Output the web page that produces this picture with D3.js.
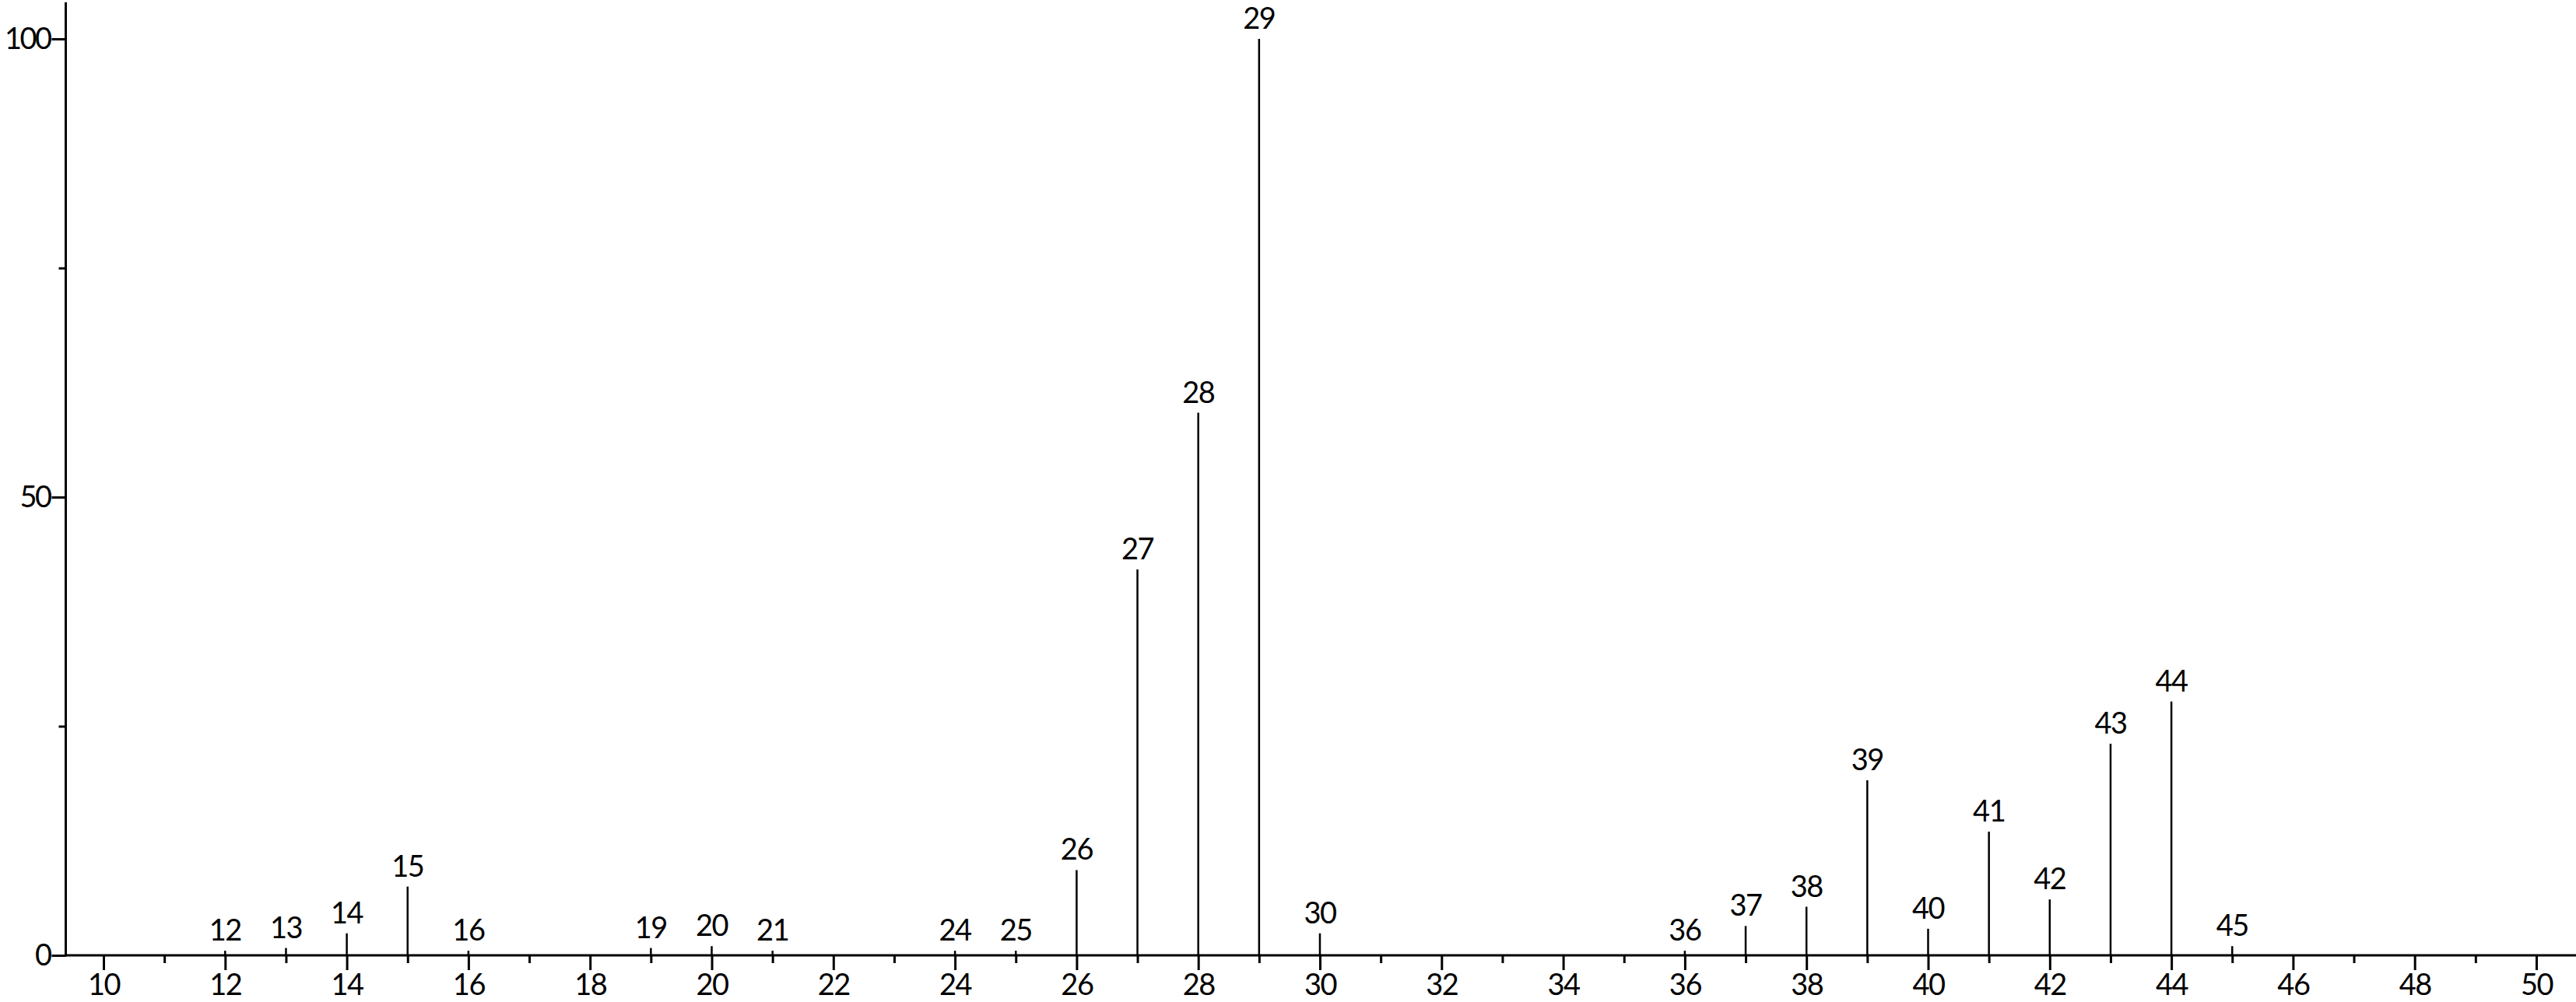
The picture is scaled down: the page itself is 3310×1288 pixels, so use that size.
<!DOCTYPE html>
<html>
<head>
<meta charset="utf-8">
<script src="https://cdn.jsdelivr.net/npm/d3@7"></script>
<style>
  html, body { margin: 0; padding: 0; background: #fff; overflow: hidden; }
  svg { display: block; }
  svg text { font-family: Lato, "Liberation Sans", sans-serif; fill: #000; letter-spacing: -1.5px; }
</style>
</head>
<body>
<div id="chart"></div>
<script>
'use strict';

// m/z values and relative intensities
var mz = [12, 13, 14, 15, 16, 19, 20, 21, 24, 25, 26, 27, 28, 29, 30,
          36, 37, 38, 39, 40, 41, 42, 43, 44, 45];
var intensity = [0.5, 0.8, 2.4, 7.5, 0.5, 0.8, 1.0, 0.5, 0.5, 0.5, 9.3, 42.1, 59.2, 100, 2.4,
                 0.5, 3.2, 5.3, 19.1, 2.9, 13.5, 6.1, 23.1, 27.7, 1.0];
var xTicks = d3.range(10, 51);
var yTicks = [0, 25, 50, 75, 100];
var yLabels = [0, 50, 100];

var width = 3310, height = 1288;

var peaks = mz.map(function(m, i){
  return {mz: m, value: intensity[i]};
});

var x = d3.scaleLinear().domain([10, 50]).range([133, 3259]);
var y = d3.scaleLinear().domain([0, 100]).range([1228, 50]);

var svg = d3.select('#chart').append('svg')
  .attr('width', width)
  .attr('height', height);

// x axis
var xAxis = svg.append('g')
  .attr('transform', 'translate(0,' + y(0) + ')')
  .call(d3.axisBottom(x).tickValues(xTicks).tickSizeOuter(0).tickPadding(8)
    .tickFormat(function(d){ return d % 2 === 0 ? d : ''; }));

xAxis.select('.domain').remove();
xAxis.append('line')
  .attr('x1', 84.5).attr('x2', width)
  .attr('stroke', '#000').attr('stroke-width', 3);
xAxis.selectAll('.tick line')
  .attr('stroke-width', 3)
  .attr('y2', function(d){ return d % 2 === 0 ? 19 : 10; });
xAxis.selectAll('.tick text')
  .attr('y', 51)
  .attr('dy', 0)
  .style('font-size', '38px');

// y axis
var yAxis = svg.append('g')
  .attr('transform', 'translate(84.5,0)')
  .call(d3.axisLeft(y).tickValues(yTicks).tickSizeOuter(0).tickPadding(3)
    .tickFormat(function(d){ return yLabels.indexOf(d) >= 0 ? d : ''; }));

yAxis.select('.domain').remove();
yAxis.append('line')
  .attr('y1', y(0) + 1.5).attr('y2', 3)
  .attr('stroke', '#000').attr('stroke-width', 3);
yAxis.selectAll('.tick line')
  .attr('stroke-width', 3)
  .attr('x2', function(d){ return yLabels.indexOf(d) >= 0 ? -18 : -9; });
yAxis.selectAll('.tick text')
  .attr('x', -20)
  .style('font-size', '38px')
  .style('letter-spacing', '-2.5px');

// peaks
svg.selectAll('line.peak')
  .data(peaks)
  .enter().append('line')
    .attr('class', 'peak')
    .attr('x1', function(d){ return x(d.mz); })
    .attr('x2', function(d){ return x(d.mz); })
    .attr('y1', y(0))
    .attr('y2', function(d){ return y(d.value); })
    .attr('stroke', '#000')
    .attr('stroke-width', 2.5);

svg.selectAll('text.peak-label')
  .data(peaks)
  .enter().append('text')
    .attr('class', 'peak-label')
    .attr('x', function(d){ return x(d.mz); })
    .attr('y', function(d){ return y(d.value) - 13; })
    .attr('text-anchor', 'middle')
    .style('font-size', '38px')
    .text(function(d){ return d.mz; });
</script>
</body>
</html>
